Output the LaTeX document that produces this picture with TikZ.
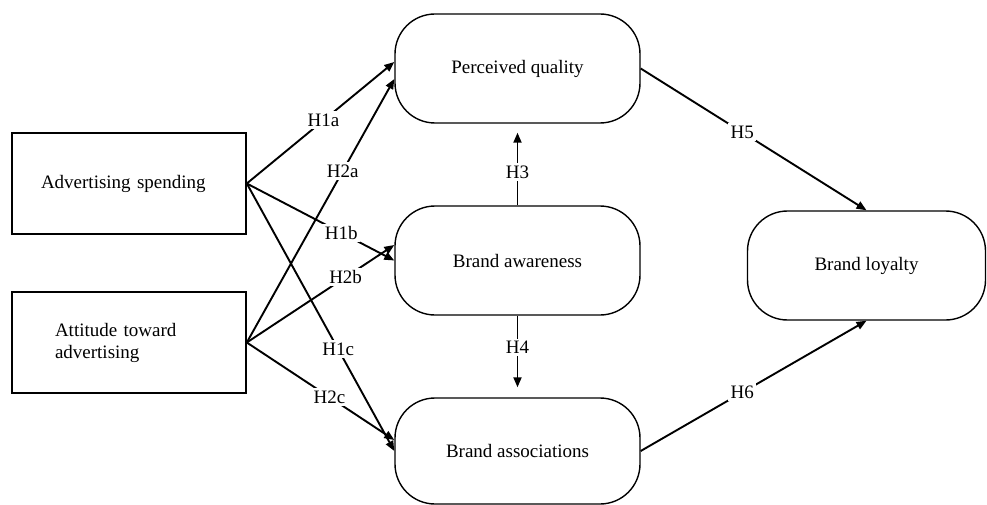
\documentclass[tikz,border=0pt]{standalone}
\usepackage{fontspec}
\setmainfont{Liberation Serif}
\usetikzlibrary{arrows.meta}
\begin{document}
\begin{tikzpicture}[x=1pt,y=-1pt,
  every node/.style={font=\fontsize{19}{22}\selectfont},
  leftbox/.style={draw, line width=1.6pt, minimum width=234pt, minimum height=101pt, align=left, inner sep=0pt},
  roundbox/.style={draw, line width=1.4pt, rounded corners=40pt, minimum width=245pt, minimum height=109pt},
  link/.style={line width=1.9pt, -{Triangle[length=10pt,width=8pt]}},
  hyp/.style={fill=white, inner sep=2.5pt}
]
\useasboundingbox[fill=white] (0,0) rectangle (987,505);

\node[leftbox, text width=176pt] (adv) at (129,183.5) {Advertising spending};
\node[leftbox, text width=148pt] (att) at (129,342.5) {Attitude toward\\advertising};

\node[roundbox] (pq)  at (517.5,68.5) {Perceived quality};
\node[roundbox] (ba)  at (517.5,260.5) {Brand awareness};
\node[roundbox, minimum height=106pt] (bas) at (517.5,451) {Brand associations};
\node[roundbox, minimum width=238pt] (bl)  at (866.5,265.5) {Brand loyalty};

\draw[link] (adv.east) -- node[hyp,pos=0.52]{H1a} ([yshift=6.5pt]pq.west);
\draw[link] (att.east) -- node[hyp,pos=0.65]{H2a} ([yshift=-10.5pt]pq.west);
\draw[link] (adv.east) -- node[hyp,pos=0.64]{H1b} (ba.west);
\draw[link] (att.east) -- node[hyp,pos=0.67]{H2b} ([yshift=15.5pt]ba.west);
\draw[link] (adv.east) -- node[hyp,pos=0.62]{H1c} (bas.west);
\draw[link] (att.east) -- node[hyp,pos=0.56]{H2c} ([yshift=11pt]bas.west);

\draw[link, shorten >=9pt] (ba.north) -- node[hyp,pos=0.41]{H3} (pq.south);
\draw[link, shorten >=10pt] (ba.south) -- node[hyp,pos=0.39]{H4} (bas.north);

\draw[link] (pq.east) -- node[hyp,pos=0.45]{H5} (bl.north);
\draw[link] (bas.east) -- node[hyp,pos=0.45]{H6} (bl.south);
\end{tikzpicture}
\end{document}
